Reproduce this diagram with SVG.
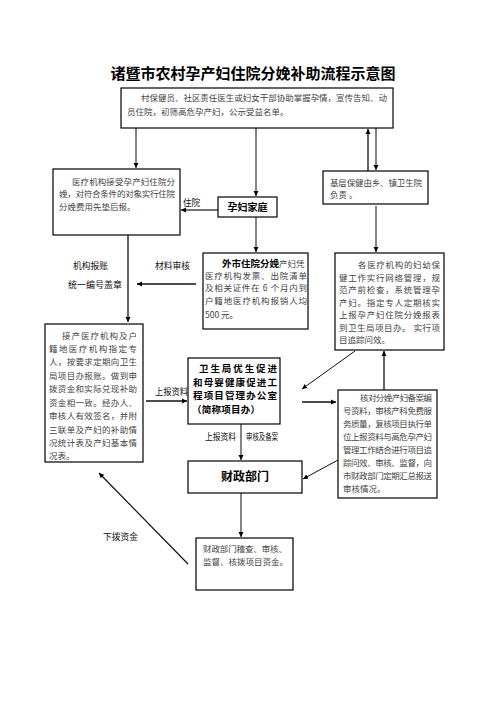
<svg xmlns="http://www.w3.org/2000/svg" width="496" height="702" viewBox="0 0 496 702">
<style>
.box{fill:#fff;stroke:#000;stroke-width:1.2}
.t{font-family:"Noto Sans CJK SC","Liberation Serif",serif;font-size:8.5px;fill:#444}
.lb{font-family:"Noto Sans CJK SC","Liberation Sans",sans-serif;font-size:8.6px;fill:#111}
.bd{font-family:"Noto Sans CJK SC","Liberation Sans",sans-serif;font-weight:bold;fill:#000}
.g{stroke:#777;stroke-width:1.8;fill:none}
.k{stroke:#111;stroke-width:1;fill:none}
</style>
<defs>
<marker id="ah" markerWidth="6" markerHeight="6" refX="5" refY="3" orient="auto" markerUnits="userSpaceOnUse">
<path d="M0,0.5 L5,3 L0,5.5 Z" fill="#000"/>
</marker>
</defs>
<rect width="496" height="702" fill="#fff"/>
<text x="253" y="79" text-anchor="middle" class="bd" font-size="15">诸暨市农村孕产妇住院分娩补助流程示意图</text>

<g id="connectors">
<line class="g" x1="136" y1="128" x2="136" y2="168" marker-end="url(#ah)"/>
<line class="g" x1="256" y1="128" x2="256" y2="196" marker-end="url(#ah)"/>
<line class="k" x1="368" y1="171" x2="368" y2="129" marker-end="url(#ah)" style="stroke-width:1.3"/>
<line class="g" x1="376" y1="128" x2="376" y2="170" marker-end="url(#ah)"/>
<line class="g" x1="218" y1="210" x2="181" y2="210" marker-end="url(#ah)" style="stroke:#444;stroke-width:1.3"/>
<line class="g" x1="256" y1="217" x2="256" y2="252" marker-end="url(#ah)"/>
<line class="g" x1="376" y1="206" x2="376" y2="252" marker-end="url(#ah)"/>
<line class="k" x1="128" y1="235" x2="128" y2="322" marker-end="url(#ah)" style="stroke-width:1.3"/>
<line class="k" x1="196" y1="284" x2="137" y2="284" marker-end="url(#ah)" style="stroke-width:1.3"/>
<line class="k" x1="146" y1="401" x2="187" y2="401" marker-end="url(#ah)" style="stroke-width:1.3"/>
<line class="k" x1="355" y1="351" x2="302" y2="389" marker-end="url(#ah)"/>
<line class="k" x1="302" y1="402" x2="336" y2="402" marker-end="url(#ah)" style="stroke-width:1.3"/>
<line class="k" x1="384" y1="390" x2="384" y2="351" marker-end="url(#ah)" style="stroke-width:1.3"/>
<line class="g" x1="241" y1="424" x2="241" y2="460" marker-end="url(#ah)"/>
<line class="k" x1="338" y1="460" x2="303" y2="479" marker-end="url(#ah)"/>
<line class="g" x1="241" y1="493" x2="241" y2="537" marker-end="url(#ah)"/>
<line class="k" x1="188" y1="564" x2="99" y2="473" marker-end="url(#ah)" style="stroke-width:1.2"/>
<text class="lb" x="183" y="206">住院</text>
<text class="lb" x="73" y="269" textLength="35" lengthAdjust="spacingAndGlyphs">机构报账</text>
<text class="lb" x="68" y="288" textLength="54" lengthAdjust="spacingAndGlyphs">统一编号盖章</text>
<text class="lb" x="155" y="269" textLength="35" lengthAdjust="spacingAndGlyphs">材料审核</text>
<text class="lb" x="155" y="395" textLength="33" lengthAdjust="spacingAndGlyphs">上报资料</text>
<text class="lb" x="205" y="440" textLength="31" lengthAdjust="spacingAndGlyphs">上报资料</text>
<text class="lb" x="246" y="440" textLength="32" lengthAdjust="spacingAndGlyphs">审核及备案</text>
<text class="lb" x="103" y="540" textLength="35" lengthAdjust="spacingAndGlyphs">下拨资金</text>
</g>

<g id="top-box">
<rect class="box" x="121" y="88" width="272" height="40"/>
<text class="t" x="141" y="101" textLength="246" lengthAdjust="spacing">村保健员、社区责任医生或妇女干部协助掌握孕情，宣传告知、动</text>
<text class="t" x="127" y="115">员住院，初筛高危孕产妇，公示受益名单。</text>
</g>

<g id="hospital-box">
<rect class="box" x="53" y="169" width="127" height="66"/>
<text class="t" x="72" y="185" textLength="103" lengthAdjust="spacing">医疗机构接受孕产妇住院分</text>
<text class="t" x="59" y="197" textLength="116" lengthAdjust="spacing">娩，对符合条件的对象实行住院</text>
<text class="t" x="59" y="210">分娩费用先垫后报。</text>
</g>

<g id="family-box">
<rect class="box" x="218" y="197" width="59" height="20"/>
<text class="bd" x="247.5" y="211" text-anchor="middle" font-size="10">孕妇家庭</text>
</g>

<g id="township-box">
<rect class="box" x="323" y="171" width="105" height="33"/>
<text class="t" x="330" y="186" textLength="92" lengthAdjust="spacing">基层保健由乡、镇卫生院</text>
<text class="t" x="330" y="198">负责 。</text>
</g>

<g id="outside-box">
<rect class="box" x="203" y="253" width="105" height="76"/>
<text x="222" y="267"><tspan class="bd" font-size="9.5">外市住院分娩</tspan><tspan class="t">产妇凭</tspan></text>
<text class="t" x="205" y="279" textLength="102" lengthAdjust="spacing">医疗机构发票、出院清单</text>
<text class="t" x="205" y="291" textLength="102" lengthAdjust="spacing">及相关证件在 6 个月内到</text>
<text class="t" x="205" y="304" textLength="102" lengthAdjust="spacing">户籍地医疗机构报销人均</text>
<text class="t" x="205" y="318">500 元。</text>
</g>

<g id="network-box">
<rect class="box" x="335" y="253" width="109" height="97"/>
<text class="t" x="358" y="268" textLength="82" lengthAdjust="spacing">各医疗机构的妇幼保</text>
<text class="t" x="339" y="280.5" textLength="101" lengthAdjust="spacing">健工作实行网络管理，规</text>
<text class="t" x="339" y="293" textLength="101" lengthAdjust="spacing">范产前检查，系统管理孕</text>
<text class="t" x="339" y="305.5" textLength="101" lengthAdjust="spacing">产妇。指定专人定期核实</text>
<text class="t" x="339" y="318" textLength="101" lengthAdjust="spacing">上报孕产妇住院分娩报表</text>
<text class="t" x="339" y="330.5" textLength="101" lengthAdjust="spacing">到卫生局项目办。 实行项</text>
<text class="t" x="339" y="343">目追踪问效。</text>
</g>

<g id="delivery-box">
<rect class="box" x="45" y="324" width="98" height="138"/>
<g class="t" font-size="8.6">
<text x="62" y="338.5" textLength="75" lengthAdjust="spacing">接产医疗机构及户</text>
<text x="49" y="352" textLength="88" lengthAdjust="spacing">籍地医疗机构指定专</text>
<text x="49" y="365.4" textLength="88" lengthAdjust="spacing">人，按要求定期向卫生</text>
<text x="49" y="378.8" textLength="88" lengthAdjust="spacing">局项目办报账。做到申</text>
<text x="49" y="392.3" textLength="88" lengthAdjust="spacing">拨资金和实际兑现补助</text>
<text x="49" y="405.7" textLength="88" lengthAdjust="spacing">资金相一致。经办人、</text>
<text x="49" y="419.1" textLength="88" lengthAdjust="spacing">审核人有效签名，并附</text>
<text x="49" y="432.6" textLength="88" lengthAdjust="spacing">三联单及产妇的补助情</text>
<text x="49" y="446" textLength="88" lengthAdjust="spacing">况统计表及产妇基本情</text>
<text x="49" y="459.4">况表。</text>
</g>
</g>

<g id="office-box">
<rect class="box" x="188" y="358" width="92" height="66"/>
<g class="bd" font-size="9.5">
<text x="199" y="372" textLength="78" lengthAdjust="spacing">卫生局优生促进</text>
<text x="193" y="385.5" textLength="84" lengthAdjust="spacing">和母婴健康促进工</text>
<text x="193" y="399" textLength="84" lengthAdjust="spacing">程项目管理办公室</text>
<text x="192" y="412.5" textLength="68" lengthAdjust="spacing">（简称项目办）</text>
</g>
</g>

<g id="verify-box">
<rect class="box" x="338" y="390" width="99" height="108"/>
<text class="t" x="360" y="401" textLength="72" lengthAdjust="spacing">核对分娩产妇备案编</text>
<text class="t" x="343" y="414" textLength="89" lengthAdjust="spacing">号资料，审核产科免费服</text>
<text class="t" x="343" y="427" textLength="89" lengthAdjust="spacing">务质量，复核项目执行单</text>
<text class="t" x="343" y="440" textLength="89" lengthAdjust="spacing">位上报资料与高危孕产妇</text>
<text class="t" x="343" y="453" textLength="89" lengthAdjust="spacing">管理工作结合进行项目追</text>
<text class="t" x="343" y="466" textLength="89" lengthAdjust="spacing">踪问效、审核、监督，向</text>
<text class="t" x="343" y="479" textLength="89" lengthAdjust="spacing">市财政部门定期汇总报送</text>
<text class="t" x="343" y="492">审核情况。</text>
</g>

<g id="finance-box">
<rect class="box" x="188" y="461" width="114" height="32"/>
<text class="bd" x="245" y="481" text-anchor="middle" font-size="12">财政部门</text>
</g>

<g id="audit-box">
<rect class="box" x="196" y="538" width="97" height="52"/>
<text class="t" x="203" y="552" textLength="84" lengthAdjust="spacing">财政部门稽查、审核、</text>
<text class="t" x="203" y="565">监督、核拨项目资金。</text>
</g>
</svg>
